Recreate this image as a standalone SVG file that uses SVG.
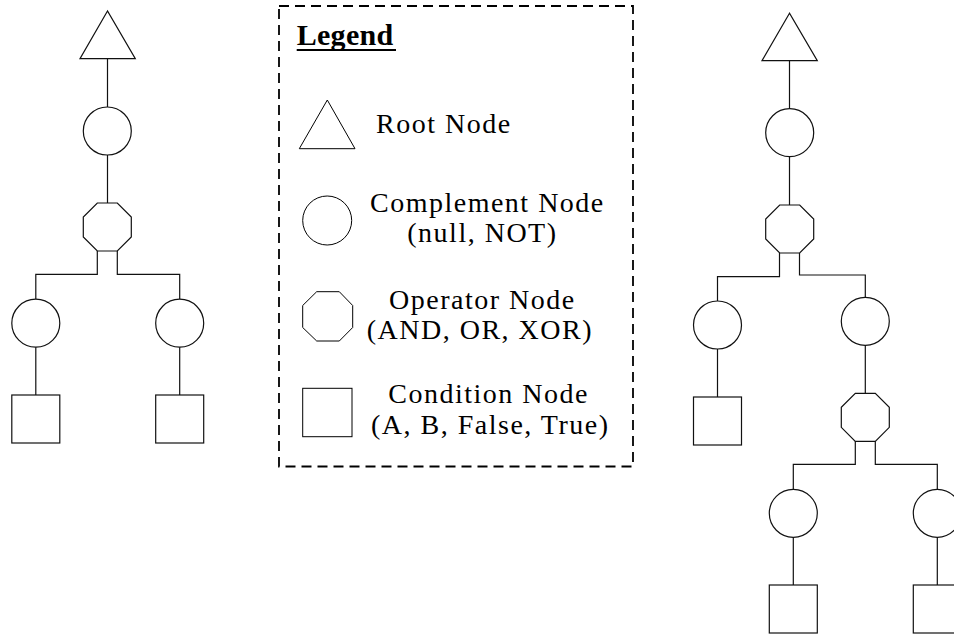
<svg xmlns="http://www.w3.org/2000/svg" width="954" height="635" viewBox="0 0 954 635">
<style>
.n{fill:#fff;stroke:#111;stroke-width:1.2}
.c{fill:none;stroke:#111;stroke-width:1.2}
.lg{fill:#fff;stroke:#000;stroke-width:1}
.t{font-family:"Liberation Serif","Times New Roman",serif;font-size:28px;letter-spacing:1.5px;fill:#000}
.h{font-family:"Liberation Serif","Times New Roman",serif;font-size:30px;font-weight:bold;letter-spacing:0.3px;fill:#000}
</style>
<defs>
<polygon id="oct" points="14,0 34,0 48,14 48,34 34,48 14,48 0,34 0,14"/>
</defs>
<rect width="954" height="635" fill="#fff"/>

<g id="connectors">
<path class="c" d="M107.5,59 V107 M107.5,155 V203"/>
<path class="c" d="M97.3,251 V274.3 H35.8 V299.3 M117.3,251 V274.3 H179.7 V299.3"/>
<path class="c" d="M35.8,347 V395 M179.7,347 V395"/>
<path class="c" d="M789.5,60.7 V108.7 M789.5,156.7 V205"/>
<path class="c" d="M779.5,253 V276.7 H717.5 V301 M799.5,253 V275 H865.3 V297.3"/>
<path class="c" d="M717.5,349 V397 M865.3,345.3 V393.3"/>
<path class="c" d="M855.3,441.3 V464.3 H793.3 V489.3 M875.3,441.3 V464.3 H937.3 V489.3"/>
<path class="c" d="M793.3,537.3 V585 M937.3,537.3 V585"/>
</g>

<g id="L_root"><polygon class="n" points="107.5,11 80,58.7 135.3,58.7"/></g>
<g id="L_comp"><circle class="n" cx="107.3" cy="131" r="24"/></g>
<g id="L_op"><use href="#oct" class="n" x="83.3" y="203"/></g>
<g id="L_comp_l"><circle class="n" cx="35.8" cy="323.2" r="24"/></g>
<g id="L_comp_r"><circle class="n" cx="179.7" cy="323.2" r="24"/></g>
<g id="L_cond_l"><rect class="n" x="11.8" y="395" width="48" height="48"/></g>
<g id="L_cond_r"><rect class="n" x="155.7" y="395" width="48" height="48"/></g>

<g id="R_root"><polygon class="n" points="789.5,13.3 762,60.7 817.3,60.7"/></g>
<g id="R_comp"><circle class="n" cx="789.7" cy="132.7" r="24"/></g>
<g id="R_op"><use href="#oct" class="n" x="765.7" y="205"/></g>
<g id="R_comp_l"><circle class="n" cx="717.5" cy="325" r="24"/></g>
<g id="R_comp_r"><circle class="n" cx="865.3" cy="321.3" r="24"/></g>
<g id="R_cond_l"><rect class="n" x="693.5" y="397" width="48" height="48"/></g>
<g id="R_op2"><use href="#oct" class="n" x="841.3" y="393.3"/></g>
<g id="R_comp_ll"><circle class="n" cx="793.3" cy="513.3" r="24"/></g>
<g id="R_comp_lr"><circle class="n" cx="937.3" cy="513.3" r="24"/></g>
<g id="R_cond_ll"><rect class="n" x="769.3" y="585" width="48" height="48"/></g>
<g id="R_cond_lr"><rect class="n" x="913.3" y="585" width="48" height="48"/></g>

<g id="legend">
<rect x="279" y="6" width="354" height="460.5" fill="none" stroke="#000" stroke-width="1.8" stroke-dasharray="10 6"/>
<text class="h" x="296.7" y="45">Legend</text>
<line x1="296.7" y1="50" x2="396" y2="50" stroke="#000" stroke-width="1.8"/>
<g id="legend_root">
<polygon class="lg" points="327.3,100 299.3,148.7 355,148.7"/>
<text class="t" x="376" y="133.3">Root Node</text>
</g>
<g id="legend_comp">
<circle class="lg" cx="327.2" cy="220.5" r="24.5"/>
<text class="t" x="370" y="211.7">Complement Node</text>
<text class="t" x="407.3" y="241.7">(null, NOT)</text>
</g>
<g id="legend_op">
<polygon class="lg" points="316.7,291.7 339.3,291.7 352.7,305.5 352.7,327.5 339.3,341 316.7,341 302.7,327.5 302.7,305.5"/>
<text class="t" x="389" y="308.7">Operator Node</text>
<text class="t" x="366.7" y="339.3">(AND, OR, XOR)</text>
</g>
<g id="legend_cond">
<rect class="lg" x="302.7" y="388.3" width="49.3" height="48.4"/>
<text class="t" x="388.3" y="403.3">Condition Node</text>
<text class="t" x="371" y="433.5">(A, B, False, True)</text>
</g>
</g>
</svg>
